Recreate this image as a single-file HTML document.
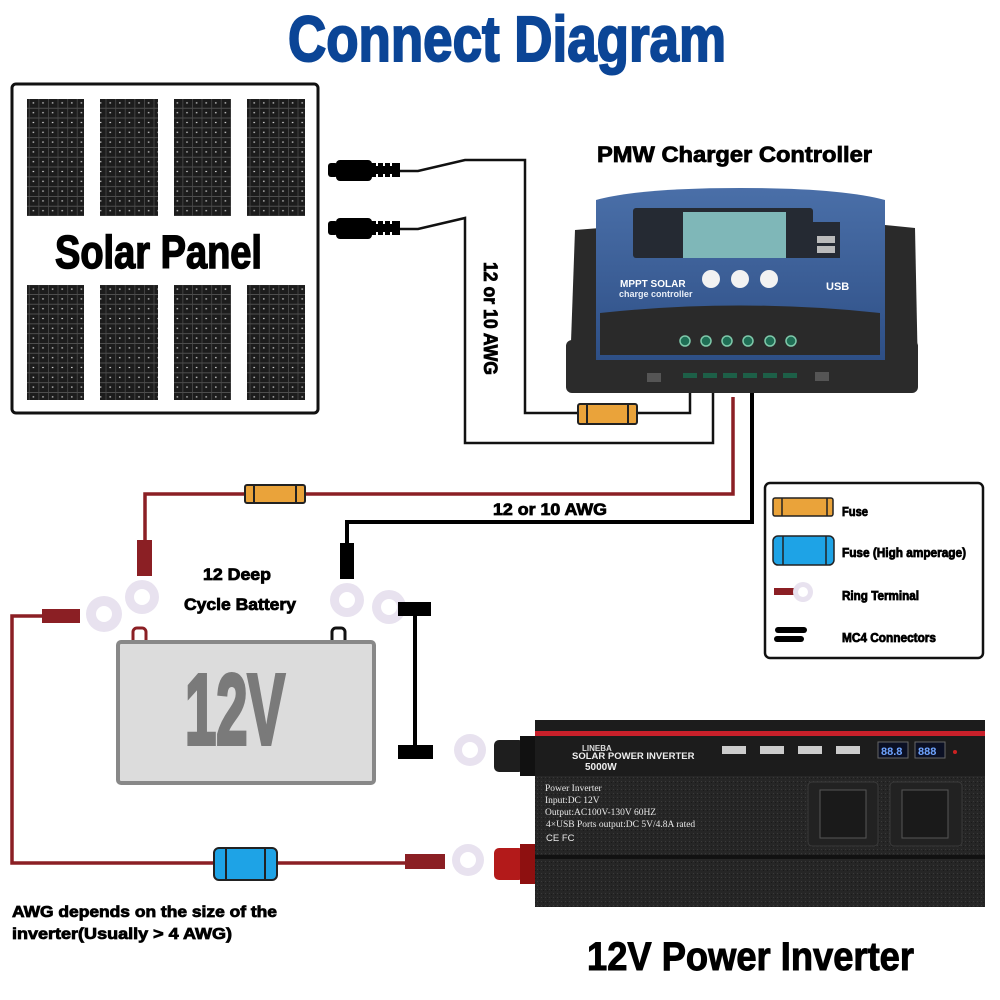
<!DOCTYPE html>
<html><head><meta charset="utf-8"><style>
html,body{margin:0;padding:0;background:#fff;width:1000px;height:1000px;overflow:hidden}
text{font-family:"Liberation Sans",sans-serif;font-weight:bold}
.h{stroke:#000;stroke-width:0.8}
</style></head><body>
<svg width="1000" height="1000" viewBox="0 0 1000 1000" xmlns="http://www.w3.org/2000/svg">
<defs>
<pattern id="cell" width="9.6" height="9.8" patternUnits="userSpaceOnUse">
<rect width="9.6" height="9.8" fill="#1c1c1c"/>
<rect x="0" y="0" width="9.6" height="0.8" fill="#5a5a5a"/>
<rect x="0" y="0" width="0.8" height="9.8" fill="#4a4a4a"/>
<rect x="3.8" y="4.3" width="1.6" height="1.2" fill="#ccc"/>
</pattern>
<pattern id="grain" width="4" height="4" patternUnits="userSpaceOnUse">
<rect width="4" height="4" fill="#262626"/><rect x="1" y="1" width="1" height="1" fill="#3a3a3a"/><rect x="3" y="2" width="1" height="1" fill="#1a1a1a"/>
</pattern>
<linearGradient id="blue" x1="0" y1="0" x2="0" y2="1"><stop offset="0" stop-color="#4a6fa8"/><stop offset="1" stop-color="#2e4f86"/></linearGradient>
</defs>

<!-- Title -->
<text x="288" y="61" font-size="64" fill="#0b4596" stroke="#0b4596" stroke-width="2" textLength="438" lengthAdjust="spacingAndGlyphs">Connect Diagram</text>

<!-- Solar panel -->
<rect x="12" y="84" width="306" height="329" rx="4" fill="#fff" stroke="#111" stroke-width="3"/>
<g fill="url(#cell)">
<rect x="27" y="99" width="57" height="117"/><rect x="100" y="99" width="58" height="117"/><rect x="174" y="99" width="57" height="117"/><rect x="247" y="99" width="58" height="117"/>
<rect x="27" y="285" width="57" height="115"/><rect x="100" y="285" width="58" height="115"/><rect x="174" y="285" width="57" height="115"/><rect x="247" y="285" width="58" height="115"/>
</g>
<text x="55" y="268" font-size="46" fill="#000" stroke="#000" stroke-width="1.5" textLength="207" lengthAdjust="spacingAndGlyphs">Solar Panel</text>

<!-- MC4 connectors -->
<g fill="#000">
<rect x="328" y="163" width="10" height="14" rx="3"/><rect x="336" y="160" width="36" height="21" rx="4"/><rect x="370" y="163" width="30" height="14"/>
<rect x="328" y="221" width="10" height="14" rx="3"/><rect x="336" y="218" width="36" height="21" rx="4"/><rect x="370" y="221" width="30" height="14"/>
</g>
<g stroke="#fff" stroke-width="2"><line x1="377" y1="163" x2="377" y2="166"/><line x1="384" y1="163" x2="384" y2="166"/><line x1="391" y1="163" x2="391" y2="166"/>
<line x1="377" y1="174" x2="377" y2="177"/><line x1="384" y1="174" x2="384" y2="177"/><line x1="391" y1="174" x2="391" y2="177"/>
<line x1="377" y1="221" x2="377" y2="224"/><line x1="384" y1="221" x2="384" y2="224"/><line x1="391" y1="221" x2="391" y2="224"/>
<line x1="377" y1="232" x2="377" y2="235"/><line x1="384" y1="232" x2="384" y2="235"/><line x1="391" y1="232" x2="391" y2="235"/></g>

<!-- PV wires -->
<g fill="none" stroke="#111" stroke-width="2.5">
<path d="M400 171 L418 171 L465 160 L525 160 L525 413 L578 413"/>
<path d="M637 413 L690 413 L690 393"/>
<path d="M400 229 L418 229 L465 218 L465 443 L713 443 L713 393"/>
</g>
<text class="h" transform="translate(484,262) rotate(90)" font-size="19" fill="#000" textLength="113" lengthAdjust="spacingAndGlyphs">12 or 10 AWG</text>

<!-- Battery wires -->
<path d="M733 397 L733 494 L145 494 L145 545" fill="none" stroke="#8b1f24" stroke-width="3.5"/>
<path d="M752 393 L752 522 L347 522 L347 545" fill="none" stroke="#000" stroke-width="4"/>
<text class="h" x="493" y="515" font-size="17" fill="#000" textLength="114" lengthAdjust="spacingAndGlyphs">12 or 10 AWG</text>

<!-- fuses -->
<g stroke="#222" stroke-width="2">
<rect x="578" y="404" width="59" height="20" rx="2" fill="#eaa33a"/>
<line x1="587" y1="404" x2="587" y2="424"/><line x1="628" y1="404" x2="628" y2="424"/>
<rect x="245" y="485" width="60" height="18" rx="2" fill="#eaa33a"/>
<line x1="254" y1="485" x2="254" y2="503"/><line x1="296" y1="485" x2="296" y2="503"/>
</g>

<!-- PMW controller -->
<text class="h" x="597" y="162" font-size="22" fill="#000" textLength="275" lengthAdjust="spacingAndGlyphs">PMW Charger Controller</text>
<g>
<path d="M575 230 L600 228 L600 375 L570 370 Z" fill="#2a2a2a"/>
<path d="M885 225 L915 228 L918 375 L885 375 Z" fill="#2a2a2a"/>
<rect x="566" y="340" width="352" height="53" rx="6" fill="#2b2b2b"/>
<path d="M596 200 Q640 188 740 188 Q840 188 885 200 L885 360 L596 360 Z" fill="url(#blue)"/>
<rect x="633" y="208" width="180" height="50" rx="3" fill="#252a33"/>
<rect x="683" y="212" width="103" height="46" fill="#7fb7b8"/>
<rect x="810" y="222" width="30" height="36" fill="#252a33"/>
<rect x="817" y="236" width="18" height="7" fill="#bbb"/><rect x="817" y="246" width="18" height="7" fill="#bbb"/>
<circle cx="711" cy="279" r="9" fill="#f2f2f2"/><circle cx="740" cy="279" r="9" fill="#f2f2f2"/><circle cx="769" cy="279" r="9" fill="#f2f2f2"/>
<text x="620" y="287" font-size="10" fill="#fff">MPPT SOLAR</text>
<text x="619" y="297" font-size="9" fill="#e8eef7">charge controller</text>
<text x="826" y="290" font-size="11" fill="#fff">USB</text>
<path d="M600 313 Q740 298 880 313 L880 355 L600 355 Z" fill="#2a2a2a"/>
<g fill="#1f6e55" stroke="#7fc8aa" stroke-width="1.5">
<circle cx="685" cy="341" r="5"/><circle cx="706" cy="341" r="5"/><circle cx="727" cy="341" r="5"/><circle cx="748" cy="341" r="5"/><circle cx="770" cy="341" r="5"/><circle cx="791" cy="341" r="5"/></g>
<g fill="#1d5f47"><rect x="683" y="373" width="14" height="5"/><rect x="703" y="373" width="14" height="5"/><rect x="723" y="373" width="14" height="5"/><rect x="743" y="373" width="14" height="5"/><rect x="763" y="373" width="14" height="5"/><rect x="783" y="373" width="14" height="5"/></g>
<rect x="647" y="373" width="14" height="9" fill="#555"/><rect x="815" y="372" width="14" height="9" fill="#555"/>
</g>

<!-- Battery -->
<text class="h" x="203" y="580" font-size="17" fill="#000" textLength="68" lengthAdjust="spacingAndGlyphs">12 Deep</text>
<text class="h" x="184" y="610" font-size="17" fill="#000" textLength="112" lengthAdjust="spacingAndGlyphs">Cycle Battery</text>
<rect x="133" y="628" width="13" height="16" rx="4" fill="#fff" stroke="#8b1f24" stroke-width="3"/>
<rect x="332" y="628" width="13" height="16" rx="4" fill="#fff" stroke="#111" stroke-width="3"/>
<rect x="118" y="642" width="256" height="141" rx="3" fill="#dcdcdc" stroke="#888" stroke-width="4"/>
<text x="185" y="744" font-size="100" fill="#7a7a7a" stroke="#7a7a7a" stroke-width="4" textLength="100" lengthAdjust="spacingAndGlyphs">12V</text>

<!-- ring terminals -->
<g fill="#e8e2ef">
<circle cx="142" cy="597" r="17"/><circle cx="347" cy="600" r="17"/><circle cx="389" cy="607" r="17"/><circle cx="104" cy="614" r="18"/><circle cx="470" cy="750" r="16"/><circle cx="468" cy="860" r="16"/>
</g>
<g fill="#fff">
<circle cx="142" cy="597" r="8"/><circle cx="347" cy="600" r="8"/><circle cx="389" cy="607" r="8"/><circle cx="104" cy="614" r="8"/><circle cx="470" cy="750" r="8"/><circle cx="468" cy="860" r="8"/>
</g>
<rect x="137" y="540" width="15" height="36" fill="#8b1f24"/>
<rect x="340" y="543" width="14" height="36" fill="#000"/>
<rect x="42" y="609" width="38" height="14" fill="#8b1f24"/>
<rect x="405" y="854" width="40" height="15" fill="#8b1f24"/>

<!-- black bus bar -->
<rect x="398" y="602" width="33" height="14" fill="#000"/>
<rect x="413" y="608" width="4" height="150" fill="#000"/>
<rect x="398" y="745" width="35" height="14" fill="#000"/>

<!-- left red wire -->
<path d="M42 616 L12 616 L12 863 L405 863" fill="none" stroke="#8b1f24" stroke-width="3.5"/>
<rect x="214" y="848" width="63" height="32" rx="5" fill="#1ea3e6" stroke="#222" stroke-width="2"/>
<line x1="226" y1="848" x2="226" y2="880" stroke="#222" stroke-width="2"/><line x1="265" y1="848" x2="265" y2="880" stroke="#222" stroke-width="2"/>
<text class="h" x="12" y="917" font-size="16" fill="#000" textLength="265" lengthAdjust="spacingAndGlyphs">AWG depends on the size of the</text>
<text class="h" x="12" y="939" font-size="16" fill="#000" textLength="220" lengthAdjust="spacingAndGlyphs">inverter(Usually &gt; 4 AWG)</text>

<!-- Inverter -->
<rect x="494" y="740" width="30" height="32" rx="5" fill="#1e1e1e"/><rect x="520" y="736" width="16" height="40" fill="#111"/>
<rect x="494" y="848" width="30" height="32" rx="5" fill="#b31a1a"/><rect x="520" y="844" width="16" height="40" fill="#8e1010"/>
<rect x="535" y="720" width="450" height="187" fill="url(#grain)"/>
<rect x="535" y="720" width="450" height="56" fill="#1c1c1c"/>
<rect x="535" y="731" width="450" height="5" fill="#c8202a"/>
<text x="582" y="751" font-size="8" fill="#ddd">LINEBA</text>
<text x="572" y="759" font-size="9.5" fill="#eee">SOLAR POWER INVERTER</text>
<text x="585" y="770" font-size="10" fill="#eee">5000W</text>
<g fill="#ccc"><rect x="722" y="746" width="24" height="8"/><rect x="760" y="746" width="24" height="8"/><rect x="798" y="746" width="24" height="8"/><rect x="836" y="746" width="24" height="8"/></g>
<rect x="878" y="742" width="30" height="16" fill="#0b1024" stroke="#666"/><rect x="915" y="742" width="30" height="16" fill="#0b1024" stroke="#666"/>
<text x="881" y="755" font-size="11" fill="#6fa4ff">88.8</text><text x="918" y="755" font-size="11" fill="#6fa4ff">888</text>
<circle cx="955" cy="752" r="2" fill="#c22"/>
<g fill="#e8e8e8" font-size="9.5">
<text x="545" y="791" style="font-weight:normal;font-family:'Liberation Serif',serif">Power Inverter</text>
<text x="545" y="803" style="font-weight:normal;font-family:'Liberation Serif',serif">Input:DC 12V</text>
<text x="545" y="815" style="font-weight:normal;font-family:'Liberation Serif',serif">Output:AC100V-130V 60HZ</text>
<text x="546" y="827" style="font-weight:normal;font-family:'Liberation Serif',serif">4×USB Ports output:DC 5V/4.8A rated</text>
<text x="546" y="841" style="font-weight:normal">CE FC</text>
</g>
<g fill="#222" stroke="#3a3a3a"><rect x="808" y="782" width="70" height="64" rx="4"/><rect x="890" y="782" width="72" height="64" rx="4"/></g>
<g fill="#1a1a1a" stroke="#555"><rect x="820" y="790" width="46" height="48"/><rect x="902" y="790" width="46" height="48"/></g>
<rect x="535" y="855" width="450" height="4" fill="#111"/>

<text x="587" y="970" font-size="40" fill="#000" stroke="#000" stroke-width="1" textLength="327" lengthAdjust="spacingAndGlyphs">12V Power Inverter</text>

<!-- Legend -->
<rect x="765" y="483" width="218" height="175" rx="5" fill="#fff" stroke="#111" stroke-width="2.5"/>
<rect x="773" y="498" width="60" height="18" rx="2" fill="#eaa33a" stroke="#222" stroke-width="1.5"/>
<line x1="782" y1="498" x2="782" y2="516" stroke="#222" stroke-width="1.5"/><line x1="827" y1="498" x2="827" y2="516" stroke="#222" stroke-width="1.5"/>
<rect x="773" y="536" width="61" height="29" rx="5" fill="#1ea3e6" stroke="#222" stroke-width="1.5"/>
<line x1="783" y1="536" x2="783" y2="565" stroke="#222" stroke-width="1.5"/><line x1="826" y1="536" x2="826" y2="565" stroke="#222" stroke-width="1.5"/>
<rect x="774" y="588" width="20" height="7" fill="#8b1f24"/>
<circle cx="803" cy="592" r="10" fill="#e8e2ef"/><circle cx="803" cy="592" r="5" fill="#fff"/>
<rect x="775" y="627" width="32" height="6" rx="3" fill="#000"/><rect x="774" y="636" width="30" height="6" rx="3" fill="#000"/>
<text class="h" x="842" y="516" font-size="13" fill="#000" textLength="26" lengthAdjust="spacingAndGlyphs">Fuse</text>
<text class="h" x="842" y="557" font-size="13" fill="#000" textLength="124" lengthAdjust="spacingAndGlyphs">Fuse (High amperage)</text>
<text class="h" x="842" y="600" font-size="13" fill="#000" textLength="77" lengthAdjust="spacingAndGlyphs">Ring Terminal</text>
<text class="h" x="842" y="642" font-size="13" fill="#000" textLength="94" lengthAdjust="spacingAndGlyphs">MC4 Connectors</text>
</svg>
</body></html>
